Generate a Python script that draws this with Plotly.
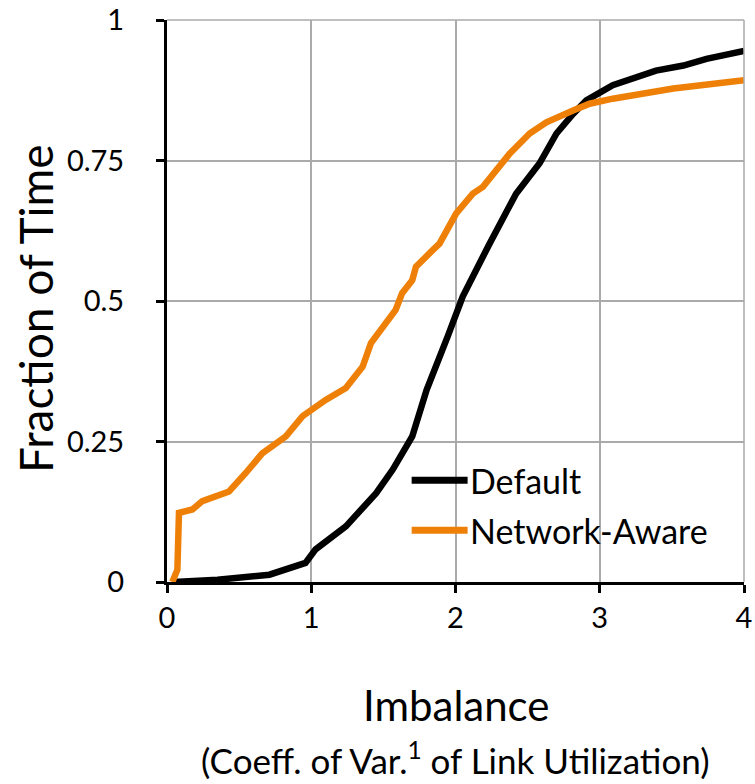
import plotly.graph_objects as go

# CDF of link-utilization imbalance under two placement policies
default_x = [0.05, 0.35, 0.71, 0.85, 0.96, 1.03, 1.24, 1.45, 1.565, 1.70, 1.80, 1.946,
             2.05, 2.236, 2.42, 2.583, 2.70, 2.815, 2.907, 3.09, 3.39, 3.58, 3.74, 4.0]
default_y = [0.0, 0.004, 0.013, 0.024, 0.034, 0.058, 0.099, 0.158, 0.20, 0.259, 0.342, 0.437,
             0.508, 0.602, 0.691, 0.745, 0.798, 0.833, 0.857, 0.884, 0.910, 0.919, 0.931, 0.945]

aware_x = [0.037, 0.072, 0.083, 0.176, 0.245, 0.43, 0.546, 0.66, 0.824, 0.94, 1.10, 1.24,
           1.356, 1.414, 1.585, 1.63, 1.70, 1.726, 1.84, 1.889, 2.005, 2.12, 2.19, 2.306,
           2.375, 2.514, 2.63, 2.815, 2.93, 3.09, 3.51, 4.0]
aware_y = [0.0, 0.022, 0.123, 0.129, 0.144, 0.161, 0.194, 0.229, 0.259, 0.295, 0.324, 0.345,
           0.383, 0.425, 0.484, 0.514, 0.537, 0.561, 0.590, 0.602, 0.656, 0.691, 0.703, 0.739,
           0.762, 0.798, 0.818, 0.839, 0.851, 0.86, 0.878, 0.893]

series_names = ["Default", "Network-Aware"]
series_colors = ["#000000", "#EE8008"]

x_ticks = [0, 1, 2, 3, 4]
x_tick_text = ["0", "1", "2", "3", "4"]
y_ticks = [0, 0.25, 0.5, 0.75, 1]
y_tick_text = ["0", "0.25", "0.5", "0.75", "1"]

FONT = "Lato"

fig = go.Figure()
for xs, ys, name, color in [(default_x, default_y, series_names[0], series_colors[0]),
                            (aware_x, aware_y, series_names[1], series_colors[1])]:
    fig.add_trace(go.Scatter(x=xs, y=ys, mode="lines", name=name,
                             line=dict(color=color, width=6.5), showlegend=False))

# hand-drawn legend with long line samples
legend_y = [0.181, 0.092]
for ly, name, color in zip(legend_y, series_names, series_colors):
    fig.add_shape(type="line", xref="paper", yref="paper",
                  x0=0.424, x1=0.521, y0=ly, y1=ly,
                  line=dict(color=color, width=7))
    fig.add_annotation(text=name, xref="paper", yref="paper", x=0.522, y=ly,
                       xanchor="left", yanchor="middle", showarrow=False,
                       font=dict(family=FONT, size=34, color="black"))

# top and right grid borders
fig.add_shape(type="line", xref="paper", yref="paper", x0=0, x1=1, y0=1, y1=1,
              line=dict(color="#aaaaaa", width=1.5))
fig.add_shape(type="line", xref="paper", yref="paper", x0=1, x1=1, y0=0, y1=1,
              line=dict(color="#aaaaaa", width=1.5))

fig.add_annotation(text="Imbalance", xref="paper", yref="paper", x=0.5, y=-0.218,
                   xanchor="center", yanchor="middle", showarrow=False,
                   font=dict(family=FONT, size=42, color="black"))
fig.add_annotation(text="(Coeff. of Var.<sup>1</sup> of Link Utilization)", xref="paper",
                   yref="paper", x=0.5, y=-0.314, xanchor="center", yanchor="middle",
                   showarrow=False, font=dict(family=FONT, size=35, color="black"))
fig.add_annotation(text="Fraction of Time", xref="paper", yref="paper", x=-0.227, y=0.486,
                   xanchor="center", yanchor="middle", textangle=-90, showarrow=False,
                   font=dict(family=FONT, size=46, color="black"))

axis_common = dict(showline=True, linecolor="black", linewidth=3, ticks="outside",
                   ticklen=8, tickwidth=3, tickcolor="black", showgrid=True,
                   gridcolor="#aaaaaa", gridwidth=1.5, zeroline=False, automargin=False,
                   tickfont=dict(family=FONT, size=29, color="black"))

fig.update_layout(
    width=755, height=784,
    margin=dict(l=167, r=11, t=20, b=202),
    plot_bgcolor="white", paper_bgcolor="white",
    xaxis=dict(range=[0, 4], tickvals=x_ticks, ticktext=x_tick_text, **axis_common),
    yaxis=dict(range=[0, 1], tickvals=y_ticks, ticktext=y_tick_text,
               ticklabelstandoff=26, **axis_common),
)

fig.write_html("out.html")
